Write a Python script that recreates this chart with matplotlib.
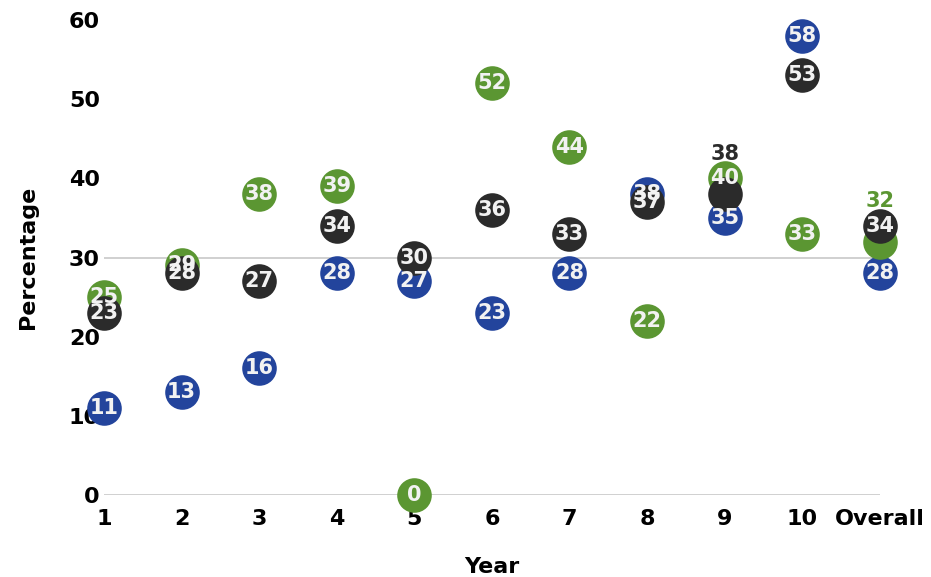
import numpy as np
import matplotlib.pyplot as plt

years = ["1", "2", "3", "4", "5", "6", "7", "8", "9", "10", "Overall"]
blue_vals = [11, 13, 16, 28, 27, 23, 28, 38, 35, 58, 28]
green_vals = [25, 29, 38, 39, 0, 52, 44, 22, 40, 33, 32]
dark_vals = [23, 28, 27, 34, 30, 36, 33, 37, 38, 53, 34]

BLUE = "#23449c"
GREEN = "#5b9632"
DARK = "#2b2b2b"

# labels that were pushed above the marker cluster (series, index)
lifted = {("dark", 8), ("green", 10)}

fig = plt.figure(figsize=(9.31, 5.77), dpi=100)
ax = fig.add_axes([0.1117, 0.1421, 0.8333, 0.8232])

x = np.arange(1, len(years) + 1)
ax.axhline(0, color="#c8c8c8", lw=1.2, zorder=1)
ax.axhline(30, color="#c8c8c8", lw=1.2, zorder=1)

series = [("blue", blue_vals, BLUE), ("green", green_vals, GREEN), ("dark", dark_vals, DARK)]
for z, (name, vals, col) in enumerate(series):
    ax.scatter(x, vals, s=620, color=col, zorder=3 + z, clip_on=False, linewidths=0)
    for i, v in enumerate(vals):
        if (name, i) in lifted:
            ax.annotate(str(v), (x[i], v), xytext=(0, 29), textcoords="offset points",
                        ha="center", va="center", fontsize=15, fontweight="bold",
                        color=col, zorder=10, annotation_clip=False)
        else:
            ax.text(x[i], v, str(v), ha="center", va="center", fontsize=15,
                    fontweight="bold", color="#f2f2f2", zorder=10, clip_on=False)

ax.set_xlim(1, 11)
ax.set_ylim(0, 60)
ax.set_xticks(x)
ax.set_xticklabels(years)
ax.set_yticks(range(0, 61, 10))
for s in ax.spines.values():
    s.set_visible(False)
ax.tick_params(length=0, labelsize=16)
for lab in ax.get_xticklabels() + ax.get_yticklabels():
    lab.set_fontweight("bold")
ax.tick_params(axis="x", pad=10)
ax.tick_params(axis="y", pad=3)

ax.set_xlabel("Year", fontsize=16, fontweight="bold", labelpad=20)
ax.set_ylabel("Percentage", fontsize=16, fontweight="bold", labelpad=22)

fig.savefig("out.png", dpi=100)
